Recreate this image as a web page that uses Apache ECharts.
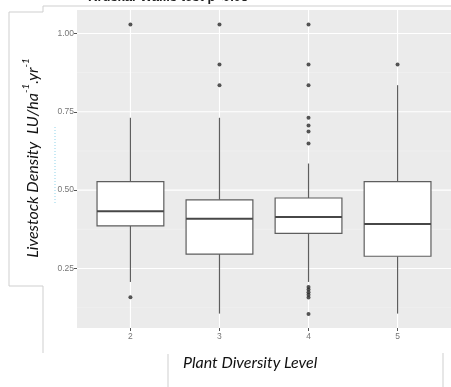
<!DOCTYPE html>
<html>
<head>
<meta charset="utf-8">
<script src="https://cdn.jsdelivr.net/npm/echarts@6/dist/echarts.min.js"></script>
<style>html,body{margin:0;padding:0;background:#fff;}#c{width:451px;height:387px;}</style>
</head>
<body>
<div id="c"></div>
<script>
// ---- data ----
const categories = [2, 3, 4, 5];
const whiskerLow  = [0.207, 0.106, 0.207, 0.106];
const q1          = [0.386, 0.296, 0.362, 0.289];
const median      = [0.433, 0.409, 0.414, 0.392];
const q3          = [0.527, 0.469, 0.475, 0.527];
const whiskerHigh = [0.731, 0.731, 0.585, 0.835];
const outliers2 = [1.029, 0.158];
const outliers3 = [1.029, 0.901, 0.835];
const outliers4 = [1.029, 0.901, 0.835, 0.731, 0.706, 0.687, 0.649, 0.191, 0.183, 0.174, 0.166, 0.157, 0.105];
const outliers5 = [0.901];
const yTicks = [0.25, 0.5, 0.75, 1.0];
const yMinor = [0.125, 0.375, 0.625, 0.875];
const titleText = 'Kruskal-Wallis test p<0.05';
const xTitle = 'Plant Diversity Level';

const X_MIN = 1.4, X_MAX = 5.6, Y_MIN = 0.06, Y_MAX = 1.075;

const outlierData = [];
[outliers2, outliers3, outliers4, outliers5].forEach((arr, i) => arr.forEach(v => outlierData.push([categories[i], v])));
const boxData = categories.map((c, i) => [c, whiskerLow[i], q1[i], median[i], q3[i], whiskerHigh[i]]);

function hLines(color, width) {
  return function (params, api) {
    const v = api.value(0);
    const a = api.coord([X_MIN, v]), b = api.coord([X_MAX, v]);
    return {type: 'line', shape: {x1: a[0], y1: a[1], x2: b[0], y2: b[1]}, style: {stroke: color, lineWidth: width}};
  };
}
function vLines(color, width) {
  return function (params, api) {
    const v = api.value(0);
    const a = api.coord([v, Y_MIN]), b = api.coord([v, Y_MAX]);
    return {type: 'line', shape: {x1: a[0], y1: a[1], x2: b[0], y2: b[1]}, style: {stroke: color, lineWidth: width}};
  };
}

const chart = echarts.init(document.getElementById('c'), null, {renderer: 'canvas'});
const lineCol = '#cfcfcf';
function L(x1, y1, x2, y2, c, w) {
  return {type: 'line', silent: true, z: 100, shape: {x1, y1, x2, y2}, style: {stroke: c || lineCol, lineWidth: w || 1}};
}
chart.setOption({
  animation: false,
  backgroundColor: '#ffffff',
  grid: {left: 77, top: 10, width: 379, height: 318, show: true, backgroundColor: '#EBEBEB', borderWidth: 0},
  xAxis: {
    type: 'value', min: X_MIN, max: X_MAX,
    axisLine: {show: false}, splitLine: {show: false},
    axisTick: {show: true, customValues: categories, length: 3, lineStyle: {color: '#555', width: 1}},
    axisLabel: {customValues: categories, color: '#777', fontSize: 8.5, fontFamily: 'Liberation Sans', margin: 4}
  },
  yAxis: {
    type: 'value', min: Y_MIN, max: Y_MAX,
    axisLine: {show: false}, splitLine: {show: false},
    axisTick: {show: true, customValues: yTicks, length: 3, lineStyle: {color: '#555', width: 1}},
    axisLabel: {customValues: yTicks, color: '#777', fontSize: 8.5, fontFamily: 'Liberation Sans', margin: 3,
      formatter: v => v.toFixed(2)}
  },
  series: [
    {type: 'custom', silent: true, z: 1, renderItem: hLines('#F4F4F4', 0.6), data: yMinor.map(v => [v])},
    {type: 'custom', silent: true, z: 1, renderItem: hLines('#FFFFFF', 1.1), data: yTicks.map(v => [v])},
    {type: 'custom', silent: true, z: 1, renderItem: vLines('#FFFFFF', 1.1), data: categories.map(v => [v])},
    {
      type: 'custom', z: 2, silent: true,
      renderItem: function (params, api) {
        const x = api.value(0);
        const pLo = api.coord([x, api.value(1)]);
        const pQ1 = api.coord([x, api.value(2)]);
        const pMed = api.coord([x, api.value(3)]);
        const pQ3 = api.coord([x, api.value(4)]);
        const pHi = api.coord([x, api.value(5)]);
        const hw = api.size([0.75, 0])[0] / 2;
        const px = pMed[0];
        const sc = '#5e5e5e';
        return {type: 'group', children: [
          {type: 'line', shape: {x1: px, y1: pHi[1], x2: px, y2: pQ3[1]}, style: {stroke: sc, lineWidth: 1.2}},
          {type: 'line', shape: {x1: px, y1: pQ1[1], x2: px, y2: pLo[1]}, style: {stroke: sc, lineWidth: 1.2}},
          {type: 'rect', shape: {x: px - hw, y: pQ3[1], width: 2 * hw, height: pQ1[1] - pQ3[1]}, style: {fill: '#fff', stroke: sc, lineWidth: 1.2}},
          {type: 'line', shape: {x1: px - hw, y1: pMed[1], x2: px + hw, y2: pMed[1]}, style: {stroke: '#474747', lineWidth: 2}}
        ]};
      },
      data: boxData
    },
    {type: 'scatter', z: 3, silent: true, symbol: 'circle', symbolSize: 4, itemStyle: {color: '#2a2a2a'}, data: outlierData}
  ],
  graphic: [
    {type: 'text', silent: true, z: 100, x: 88, y: 4,
      style: {text: titleText, font: 'bold 13px "Liberation Sans"', fill: '#222', verticalAlign: 'bottom', align: 'left'}},
    L(43, 6, 451, 6),
    L(43, 6, 43, 12),
    L(9, 12, 43, 12),
    L(9, 12, 9, 286),
    L(9, 286, 43, 286),
    L(43, 286, 43, 353),
    L(168, 354, 168, 387),
    L(443, 353, 443, 387),
    {type: 'line', silent: true, z: 100, shape: {x1: 55, y1: 127, x2: 55, y2: 205},
      style: {stroke: '#8fd3ea', lineWidth: 1, lineDash: [1, 2]}},
    {type: 'text', silent: true, z: 100, x: 31, y: 158, rotation: Math.PI / 2,
      style: {
        text: '{a|Livestock Density  LU/ha}{s|-1}{a|.yr}{s|-1}',
        align: 'center', verticalAlign: 'middle',
        rich: {
          a: {font: 'italic 16px Lato', fill: '#111', lineHeight: 20, verticalAlign: 'bottom'},
          s: {font: 'italic 10px Lato', fill: '#111', lineHeight: 20, verticalAlign: 'top'}
        }
      }},
    {type: 'text', silent: true, z: 100, x: 183, y: 363,
      style: {text: xTitle, font: 'italic 16px Lato', fill: '#111', align: 'left', verticalAlign: 'middle'}}
  ]
});
</script>
</body>
</html>
